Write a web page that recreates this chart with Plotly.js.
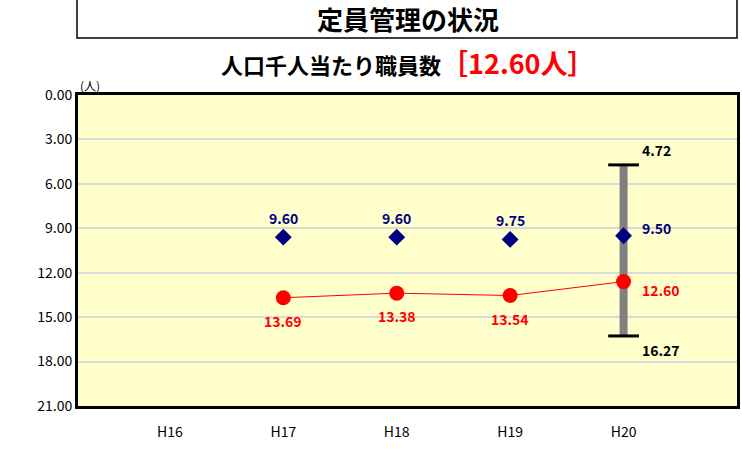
<!DOCTYPE html>
<html><head><meta charset="utf-8">
<script src="https://cdn.plot.ly/plotly-3.0.1.min.js"></script>
<style>html,body{margin:0;padding:0;background:#fff}</style>
</head><body>
<div id="chart" style="width:742px;height:450px"></div>
<script>
const categories = ['H16', 'H17', 'H18', 'H19', 'H20'];
const groupCats = ['H17', 'H18', 'H19', 'H20'];
const groupAvg = [9.60, 9.60, 9.75, 9.50];
const cityValues = [13.69, 13.38, 13.54, 12.60];
const rangeCat = 'H20';
const rangeMin = 4.72;
const rangeMax = 16.27;
const yTicks = [0, 3, 6, 9, 12, 15, 18, 21];

const F = '"Noto Sans CJK JP", "DejaVu Sans", sans-serif';
const fmt = v => v.toFixed(2);
const lastIdx = groupCats.length - 1;

const traces = [
  {x: [rangeCat, rangeCat], y: [rangeMin, rangeMax], mode: 'lines',
   line: {color: '#808080', width: 8}, hoverinfo: 'skip', showlegend: false},
  {x: [rangeCat, rangeCat], y: [rangeMin, rangeMax], mode: 'markers',
   marker: {symbol: 'line-ew', size: 22, line: {color: '#000', width: 3}}, showlegend: false},
  {x: groupCats, y: cityValues, mode: 'lines+markers',
   line: {color: '#ff0000', width: 1},
   marker: {symbol: 'circle', size: 15, color: '#ff0000'}, showlegend: false},
  {x: groupCats, y: groupAvg, mode: 'markers',
   marker: {symbol: 'diamond', size: 13, color: '#000080'}, showlegend: false}
];

const labelFont = c => ({family: F, size: 14, color: c, weight: 'bold'});
const dataAnn = [];
groupCats.forEach((c, i) => {
  const last = i === lastIdx;
  dataAnn.push({x: c, y: groupAvg[i], text: '<b>' + fmt(groupAvg[i]) + '</b>', showarrow: false,
    xanchor: last ? 'left' : 'center', yanchor: 'middle',
    xshift: last ? 16 : 0, yshift: last ? 8 : 19, font: labelFont('#000080')});
  dataAnn.push({x: c, y: cityValues[i], text: '<b>' + fmt(cityValues[i]) + '</b>', showarrow: false,
    xanchor: last ? 'left' : 'center', yanchor: 'middle',
    xshift: last ? 16 : 0, yshift: last ? -8 : -23, font: labelFont('#ff0000')});
});
dataAnn.push({x: rangeCat, y: rangeMin, text: '<b>' + fmt(rangeMin) + '</b>', showarrow: false,
  xanchor: 'left', yanchor: 'middle', xshift: 16, yshift: 15, font: labelFont('#000')});
dataAnn.push({x: rangeCat, y: rangeMax, text: '<b>' + fmt(rangeMax) + '</b>', showarrow: false,
  xanchor: 'left', yanchor: 'middle', xshift: 16, yshift: -14, font: labelFont('#000')});

const layout = {
  width: 742, height: 450,
  margin: {l: 78, r: 5, t: 95, b: 44},
  paper_bgcolor: '#ffffff', plot_bgcolor: '#ffffcc',
  font: {family: F, size: 12, color: '#000'},
  xaxis: {type: 'category', categoryarray: categories, categoryorder: 'array',
    range: [-0.81, 5.0], showgrid: false, zeroline: false,
    showline: true, mirror: true, linecolor: '#000', linewidth: 3,
    ticks: '', ticklabelstandoff: 11, tickfont: {family: F, size: 14}, fixedrange: true},
  yaxis: {range: [21, 0], tickvals: yTicks, ticktext: yTicks.map(fmt),
    showgrid: true, gridcolor: '#d9d9d9', gridwidth: 2, zeroline: false,
    showline: true, mirror: true, linecolor: '#000', linewidth: 3,
    ticks: '', tickfont: {family: F, size: 14}, fixedrange: true},
  shapes: [
    {type: 'rect', xref: 'paper', yref: 'paper', x0: -0.0015, x1: 1.0, y0: 1.183, y1: 1.32,
     line: {color: '#000', width: 1.5}, fillcolor: 'rgba(0,0,0,0)'}
  ],
  annotations: [
    {xref: 'paper', yref: 'paper', x: 0.5, y: 1.246, xanchor: 'center', yanchor: 'middle',
     text: '<b>定員管理の状況</b>', showarrow: false, font: {family: F, size: 26, color: '#000'}},
    {xref: 'paper', yref: 'paper', x: 0.5, y: 1.106, xanchor: 'center', yanchor: 'middle',
     text: '<b>人口千人当たり職員数</b><span style="color:#ff0000;font-size:27px"><b>［12.60人］</b></span>',
     showarrow: false, font: {family: F, size: 22, color: '#000'}},
    {xref: 'paper', yref: 'paper', x: 0.0, y: 1.0, xanchor: 'left', yanchor: 'bottom', yshift: -1,
     text: '(人)', showarrow: false, font: {family: F, size: 12, color: '#000'}}
  ].concat(dataAnn)
};

Plotly.newPlot('chart', traces, layout, {displayModeBar: false, staticPlot: true});
</script>
</body></html>
